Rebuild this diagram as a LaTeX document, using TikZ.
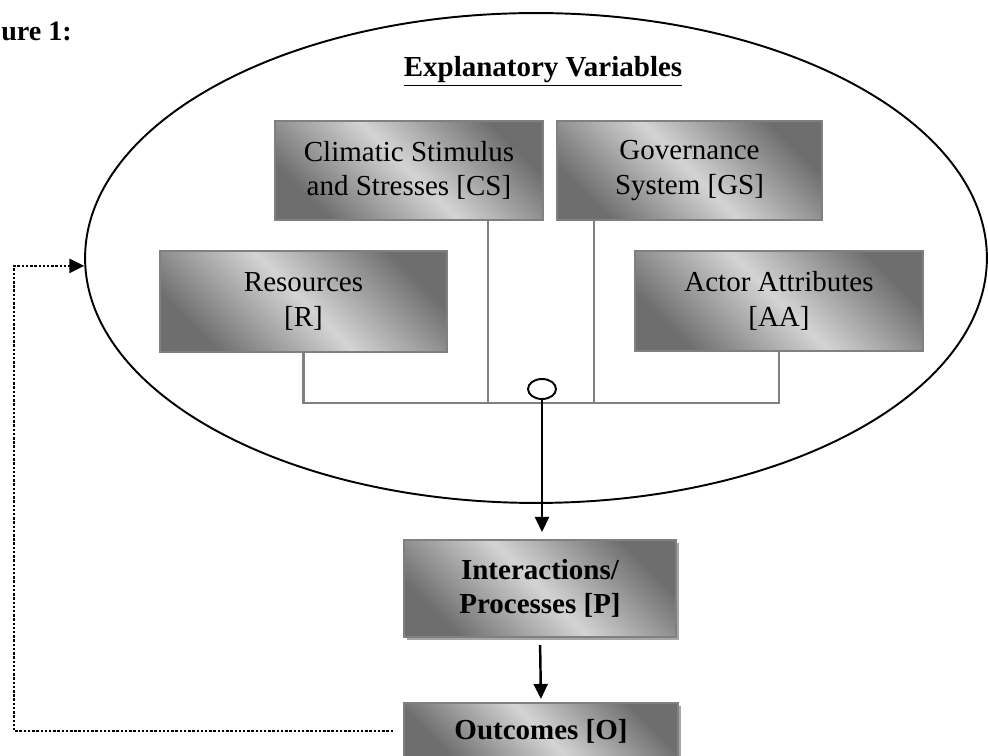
\documentclass[tikz,border=0pt]{standalone}
\usepackage{fontspec}
\setmainfont{Liberation Serif}
\usetikzlibrary{arrows.meta,shapes.geometric,shadows}
\definecolor{boxdark}{gray}{0.43}
\definecolor{boxlight}{gray}{0.83}
\definecolor{linkgray}{gray}{0.50}

\begin{document}
\begin{tikzpicture}[x=0.02cm,y=-0.02cm,
    every node/.style={font=\fontsize{16.5}{19.5}\selectfont},
    var/.style={draw=linkgray, line width=1.2pt, align=center, inner sep=0pt,
      top color=boxdark, bottom color=boxdark, middle color=boxlight, shading angle=-45},
    link/.style={draw=linkgray, line width=1.2pt},
    flow/.style={black, line width=1.4pt, -{Triangle[length=0.3cm,width=0.28cm]}},
    feedback/.style={black, line width=1.4pt, densely dotted, -{Triangle[length=0.3cm,width=0.28cm]}}]
    \useasboundingbox (0,0) rectangle (988,756);

    \node[ellipse, draw, line width=1.1pt, minimum width=18.04cm, minimum height=9.8cm, inner sep=0pt] (ev) at (536,258) {};
    \node[anchor=base west, inner sep=0pt, font=\fontsize{16}{19}\selectfont\bfseries] (fig) at (1,41) {ure 1:};
    \node[anchor=base, inner sep=0pt, font=\fontsize{16.5}{19.5}\selectfont\bfseries] (title) at (543,77) {\underline{Explanatory Variables}};

    \node[var, minimum width=5.36cm, minimum height=1.98cm] (CS) at (409,170.5) {Climatic Stimulus\\and Stresses [CS]};
    \node[var, minimum width=5.3cm, minimum height=1.98cm] (GS) at (689.5,170.5) {Governance\\System [GS]};
    \node[var, minimum width=5.74cm, minimum height=2.02cm] (R) at (303.5,301.5) {Resources\\{}[R]};
    \node[var, minimum width=5.76cm, minimum height=2cm] (AA) at (779,301) {Actor Attributes\\{}[AA]};
    \node[var, drop shadow={shadow xshift=0.06cm, shadow yshift=-0.06cm, fill=black!35, opacity=1},
      font=\fontsize{16.5}{19.5}\selectfont\bfseries, minimum width=5.44cm, minimum height=1.94cm] (P) at (540,588.5) {Interactions/\\Processes [P]};
    \node[var, drop shadow={shadow xshift=0.06cm, shadow yshift=-0.06cm, fill=black!35, opacity=1},
      font=\fontsize{16.5}{19.5}\selectfont\bfseries, minimum width=5.48cm, minimum height=1.12cm] (O) at (541,731) {Outcomes [O]};

    \node[ellipse, draw, line width=1.1pt, minimum width=0.56cm, minimum height=0.4cm, inner sep=0pt] (jn) at (542,389) {};
    \coordinate (bus) at (542,403);
    \coordinate (loop) at (14,500);

    \draw[link] (R.south) |- (bus) -| (AA.south);
    \draw[link] ([xshift=1.58cm]CS.south) |- (bus);
    \draw[link] ([xshift=-1.91cm]GS.south) |- (bus);

    \draw[flow, shorten >=0.14cm] (jn.south) -- (jn.south |- P.north);
    \draw[flow, shorten <=0.14cm, shorten >=0.06cm] (P.south) -- (O.north);
    \draw[feedback, shorten <=0.2cm] (O.west) -| (loop) |- (ev.181);
\end{tikzpicture}
\end{document}
